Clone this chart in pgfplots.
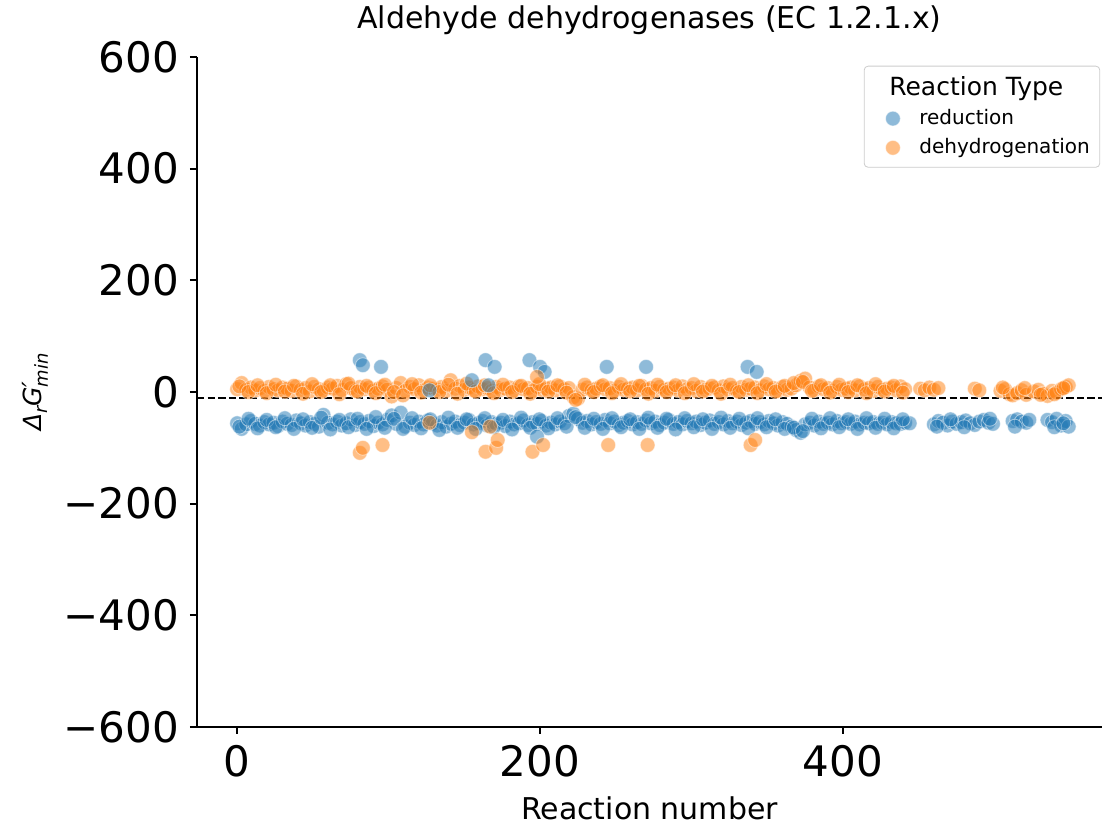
\documentclass[border=0pt]{standalone}
\usepackage{fontspec}
\setmainfont{DejaVu Sans}
\usepackage{pgfplots}
\pgfplotsset{compat=1.18}
\usepackage{pgfplotstable}
\definecolor{cblue}{RGB}{31,119,180}
\definecolor{corange}{RGB}{255,127,14}
\pgfplotsset{
  myleg/.style={legend image code/.code={\draw[mark repeat=2,mark phase=2,##1] plot coordinates {(0cm,0cm)(0.4cm,0cm)(0.8cm,0cm)};}},
  bluemk/.style={only marks, mark=*, mark size=3.7pt,
    mark options={fill=cblue, draw=white, line width=0.4pt, fill opacity=0.5, draw opacity=0.5}},
  orangemk/.style={only marks, mark=*, mark size=3.7pt,
    mark options={fill=corange, draw=white, line width=0.4pt, fill opacity=0.5, draw opacity=0.5}},
}

\pgfplotstableread{
x b o
0 -56 5
3 -66 16
6 -58 4
9 -52 8
12 -57 3
15 -60 7
18 -54 2
21 -58 9
24 -55 5
27 -61 3
30 -53 8
33 -57 6
36 -59 2
39 -51 10
42 -56 4
45 -60 7
48 -54 1
51 -57 9
54 -62 5
57 -41 3
60 -55 8
63 -58 6
66 -53 11
69 -60 4
72 -56 14
75 -49 7
78 -59 2
81 -54 9
84 -57 5
87 -52 8
90 -61 3
93 -55 6
96 -58 10
99 -50 4
102 -42 -8
105 -57 7
108 -37 16
111 -62 2
114 -55 9
117 -59 5
120 -53 12
123 -58 3
126 -51 8
129 -56 6
132 -60 4
135 -54 9
138 -62 2
141 -57 21
144 -53 6
147 -59 11
150 -55 4
153 -50 8
156 -58 3
159 -56 10
162 -52 5
165 -60 7
168 -54 2
171 -57 9
174 -55 4
177 -61 6
180 -53 8
183 -58 3
186 -56 10
189 -51 5
192 -59 7
195 -54 2
198 -57 9
201 -52 4
204 -60 6
207 -55 8
210 -58 3
213 -53 10
216 -56 5
219 -43 7
222 -39 -9
225 -48 -12
228 -55 4
231 -52 8
234 -58 3
237 -54 6
240 -57 10
243 -50 5
246 -56 7
249 -53 2
252 -59 9
255 -55 4
258 -52 6
261 -58 8
264 -54 3
267 -57 11
270 -51 5
273 -56 7
276 -53 2
279 -59 9
282 -55 4
285 -50 6
288 -57 8
291 -54 3
294 -58 10
297 -52 5
300 -56 7
303 -53 2
306 -59 9
309 -55 4
312 -51 6
315 -57 8
318 -54 3
321 -58 10
324 -52 5
327 -56 7
330 -53 2
333 -59 9
336 -55 4
339 -52 6
342 -57 8
345 -54 3
348 -58 10
351 -52 5
354 -56 7
357 -60 2
360 -54 9
363 -57 4
366 -62 6
369 -68 12
372 -73 20
375 -58 24
378 -55 8
381 -60 3
384 -53 10
387 -57 5
390 -55 7
393 -58 2
396 -52 9
399 -56 4
402 -54 6
405 -57 8
408 -53 3
411 -58 10
414 -55 5
417 -56 7
420 -54 2
423 -57 9
426 -55 4
429 -58 6
432 -54 8
435 -56 3
438 -57 10
441 -55 5
444 -56 nan
451 nan 6
454 nan 3
457 nan 8
460 -58 4
463 -52 7
466 -55 nan
469 -60 nan
472 -53 nan
475 -57 nan
478 -54 nan
481 -51 nan
484 -56 nan
487 -59 6
490 -53 3
493 -50 nan
496 -55 nan
499 -57 nan
504 nan 2
507 nan 5
510 nan -4
512 -52 -6
515 -49 -2
518 -53 3
521 -55 -5
523 -50 nan
526 nan 1
529 nan 4
532 nan -3
535 -50 -7
538 -54 2
541 -48 -1
544 -60 5
547 -52 9
549 -62 12
}\band

\pgfplotstableread{
x b o
1.5 -62 10
7.5 -48 0
13.5 -65 12
19.5 -50 -2
25.5 -63 13
31.5 -47 1
37.5 -66 11
43.5 -49 -3
49.5 -64 14
55.5 -46 0
61.5 -67 12
67.5 -50 -4
73.5 -63 15
79.5 -48 1
85.5 -66 11
91.5 -45 -2
97.5 -64 13
103.5 -48 0
109.5 -66 -6
115.5 -47 14
121.5 -65 -1
127.5 -49 12
133.5 -68 0
139.5 -46 13
145.5 -64 -3
151.5 -49 15
157.5 -66 1
163.5 -47 12
169.5 -63 -2
175.5 -50 13
181.5 -67 0
187.5 -46 11
193.5 -64 -3
199.5 -49 14
205.5 -65 1
211.5 -47 12
217.5 -62 -1
223.5 -45 -14
229.5 -64 13
235.5 -48 0
241.5 -66 12
247.5 -47 -2
253.5 -63 14
259.5 -49 1
265.5 -66 11
271.5 -46 -3
277.5 -64 13
283.5 -48 0
289.5 -67 12
295.5 -47 -2
301.5 -63 14
307.5 -49 1
313.5 -66 11
319.5 -46 -3
325.5 -64 13
331.5 -48 0
337.5 -65 12
343.5 -47 -2
349.5 -63 14
355.5 -49 1
361.5 -66 11
367.5 -64 16
373.5 -70 18
379.5 -48 2
385.5 -65 12
391.5 -47 -1
397.5 -63 13
403.5 -49 0
409.5 -66 12
415.5 -47 -2
421.5 -64 14
427.5 -48 1
433.5 -65 11
439.5 -49 -1
462 -62 nan
471 -49 nan
480 -63 nan
497 -48 nan
505.5 nan 8
513.5 -62 nan
520 nan 7
530.5 nan -5
539.5 -63 -4
545.5 -56 7
}\bandb

\pgfplotstableread{
x y
81 57
83 48
95 45
127 3
155 21
164 57
166 12
170 45
193 57
198 -80
200 45
203 36
244 45
270 45
337 45
343 36
}\bout

\pgfplotstableread{
x y
81 -109
83 -100
96 -95
127 -55
155 -72
164 -107
167 -62
171 -100
172 -86
195 -107
198 27
202 -95
245 -95
271 -95
339 -95
342 -86
}\oout

\begin{document}
\begin{tikzpicture}
\path[use as bounding box] (-98.5pt,-51pt) rectangle (453.5pt,363.5pt);
\begin{axis}[
  scale only axis, width=452.5pt, height=335pt,
  xmin=-26.5, xmax=571, ymin=-600, ymax=600,
  axis x line*=bottom, axis y line*=left,
  axis line style={line width=0.9pt, black},
  tick align=outside, major tick length=3.5pt,
  tick style={line width=0.9pt, black},
  xtick={0,200,400}, xticklabels={0,200,400},
  ytick={-600,-400,-200,0,200,400,600},
  yticklabels={−600,−400,−200,0,200,400,600},
  minor tick num=0,
  tick label style={font=\fontsize{21}{25}\selectfont},
  xticklabel style={yshift=-2pt},
  yticklabel style={xshift=-2pt},
  xlabel={Reaction number},
  xlabel style={font=\fontsize{15}{18}\selectfont, at={(axis description cs:0.5,0)}, anchor=base, yshift=-46.5pt},
  ylabel={\itshape Δ\raisebox{-0.22em}{\fontsize{9}{10}\selectfont r}G\rlap{\raisebox{0.05em}{′}}\raisebox{-0.25em}{\fontsize{9}{10}\selectfont min}},
  ylabel style={font=\fontsize{12.5}{15}\selectfont, at={(axis description cs:-0.179,0.5)}, anchor=center},
  title={Aldehyde dehydrogenases (EC 1.2.1.x)},
  title style={font=\fontsize{15}{18}\selectfont, at={(axis description cs:0.5,1)}, anchor=base, yshift=8.5pt},
  legend style={at={(axis description cs:0.998,0.987)}, anchor=north east,
    draw=black!20, rounded corners=2pt, fill=white, fill opacity=0.8, draw opacity=1, text opacity=1,
    font=\fontsize{10}{12}\selectfont, row sep=1.5pt, inner ysep=3.2pt,
    /tikz/every odd column/.append style={column sep=7.5pt}},
  legend cell align=left,
  clip=false,
]
\addlegendimage{empty legend}
\addlegendentry{\hspace*{-15pt}\fontsize{12.5}{14}\selectfont Reaction Type}

\addplot[forget plot, black, line width=1pt, dash pattern=on 3.7pt off 1.6pt] coordinates {(-26.5,-10) (571,-10)};

\addplot[bluemk, myleg] table[x=x, y=b] {\band};
\addlegendentry{reduction}
\addplot[orangemk, myleg] table[x=x, y=o] {\band};
\addlegendentry{dehydrogenation}
\addplot[bluemk, forget plot] table[x=x, y=b] {\bandb};
\addplot[orangemk, forget plot] table[x=x, y=o] {\bandb};
\addplot[bluemk, forget plot] table[x=x, y=y] {\bout};
\addplot[orangemk, forget plot] table[x=x, y=y] {\oout};
\end{axis}
\end{tikzpicture}
\end{document}
